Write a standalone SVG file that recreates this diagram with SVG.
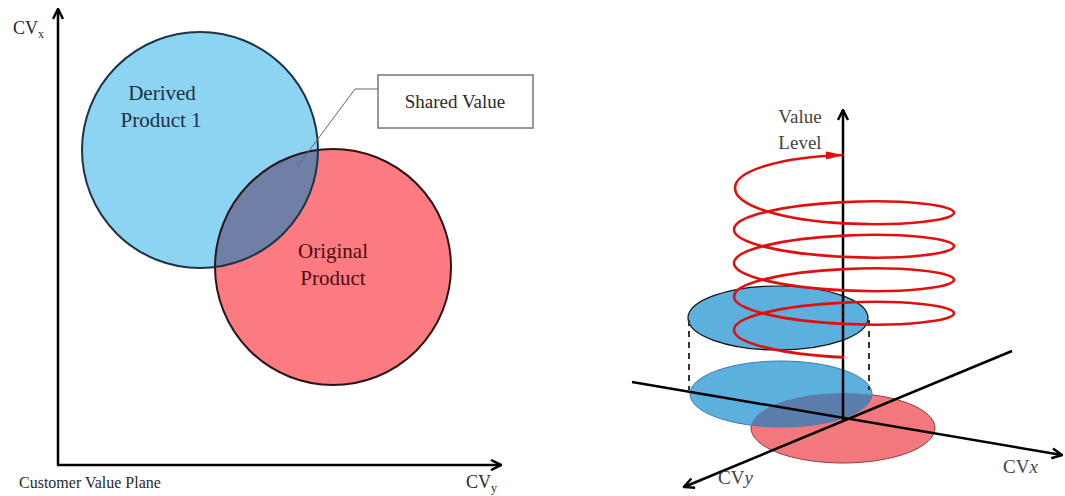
<svg xmlns="http://www.w3.org/2000/svg" width="1065" height="496" viewBox="0 0 1065 496">
  <style>
    text { font-family: "Liberation Serif", "Times New Roman", serif; }
    .axis { stroke: #000; stroke-width: 2.5; fill: none; }
    .lbl { fill: #2a2a2a; font-size: 18px; }
    .lbl3d { fill: #444; font-size: 19px; }
  </style>
  <defs>
    <marker id="arrow" viewBox="0 0 10 10" refX="9" refY="5" markerWidth="5" markerHeight="5" orient="auto">
      <path d="M1,1 L9,5 L1,9" fill="none" stroke="#000" stroke-width="2"/>
    </marker>
    <marker id="redArrow" viewBox="0 0 18 10" refX="17" refY="5" markerWidth="18" markerHeight="10" markerUnits="userSpaceOnUse" orient="auto">
      <path d="M0,1 L18,5 L0,9 Z" fill="#e01010"/>
    </marker>
    <clipPath id="clipBlue2d"><circle cx="200" cy="150" r="118"/></clipPath>
    <clipPath id="clipBlue3d"><ellipse cx="781" cy="394" rx="91" ry="33"/></clipPath>
  </defs>

  <!-- Left: customer value plane -->
  <g id="plane-axes">
    <line class="axis" x1="58" y1="465" x2="58" y2="9" marker-end="url(#arrow)"/>
    <line class="axis" x1="57" y1="465" x2="501" y2="465" marker-end="url(#arrow)"/>
    <text class="lbl" x="13" y="34">CV<tspan font-size="12" dy="4">x</tspan></text>
    <text class="lbl" x="466" y="488">CV<tspan font-size="12" dy="4">y</tspan></text>
    <text x="19" y="488" font-size="16" fill="#2a2a2a">Customer Value Plane</text>
  </g>

  <g id="original-product">
    <circle cx="333" cy="267" r="118" fill="#fb7b80"/>
  </g>
  <g id="derived-product-1">
    <circle cx="200" cy="150" r="118" fill="#8dd4f2"/>
  </g>
  <g id="shared-region">
    <circle cx="333" cy="267" r="118" fill="#6f7fa5" clip-path="url(#clipBlue2d)"/>
    <circle cx="333" cy="267" r="118" fill="none" stroke="#2a1416" stroke-width="2"/>
    <circle cx="200" cy="150" r="118" fill="none" stroke="#1c3446" stroke-width="2"/>
  </g>
  <g id="labels-2d" font-size="21">
    <text x="162" y="100" text-anchor="middle" fill="#1c2f45">Derived</text>
    <text x="161" y="127" text-anchor="middle" fill="#1c2f45">Product 1</text>
    <text x="333" y="258" text-anchor="middle" fill="#4e0c10">Original</text>
    <text x="333" y="285" text-anchor="middle" fill="#4e0c10">Product</text>
  </g>

  <g id="shared-value">
    <rect x="378" y="75" width="155" height="53" fill="#fff" stroke="#777" stroke-width="1.5"/>
    <text x="455" y="108" text-anchor="middle" font-size="19" fill="#2a2a2a">Shared Value</text>
  </g>

  <!-- Right: value level helix over the CVx / CVy plane -->
  <g id="plane-3d">
    <ellipse cx="843" cy="428" rx="92" ry="35" fill="#f3787e" stroke="#8a3c40" stroke-width="1"/>
    <ellipse cx="781" cy="394" rx="91" ry="33" fill="#5cb0de" stroke="#3a7aa8" stroke-width="1"/>
    <ellipse cx="843" cy="428" rx="92" ry="35" fill="#5b7dab" clip-path="url(#clipBlue3d)"/>
  </g>

  <g id="raised-value">
    <ellipse cx="778" cy="318" rx="90" ry="32" fill="#5cb0de" stroke="#111" stroke-width="1.2"/>
  </g>

  <g id="connectors">
    <polyline points="378,89 355,89 297,167" fill="none" stroke="#666" stroke-width="1"/>
    <g stroke="#333" stroke-width="2" stroke-dasharray="6,5">
      <line x1="689" y1="320" x2="689" y2="390"/>
      <line x1="869" y1="320" x2="869" y2="390"/>
    </g>
    <line class="axis" x1="632" y1="382" x2="1062" y2="455" marker-end="url(#arrow)"/>
    <line class="axis" x1="1012" y1="351" x2="684" y2="487" marker-end="url(#arrow)"/>
    <line class="axis" x1="843" y1="421" x2="843" y2="110" marker-end="url(#arrow)"/>
  </g>

  <g id="value-helix">
    <path fill="none" stroke="#e01010" stroke-width="2.6" marker-end="url(#redArrow)"
      d="M844,357.38
         c-60.75,-2.94 -110,-13.94 -110,-27.38 c0,-13.44 49.25,-24.43 110,-27.37 c60.75,-2.94 110,3.08 110,10.63 c0,7.55 -49.25,13.56 -110,10.62
         c-60.75,-2.94 -110,-13.94 -110,-27.38 c0,-13.44 49.25,-24.43 110,-27.37 c60.75,-2.94 110,3.08 110,10.63 c0,7.55 -49.25,13.56 -110,10.62
         c-60.75,-2.94 -110,-13.94 -110,-27.38 c0,-13.44 49.25,-24.43 110,-27.37 c60.75,-2.94 110,3.08 110,10.63 c0,7.55 -49.25,13.56 -110,10.62
         c-60.75,-2.94 -110,-13.94 -110,-27.38 c0,-13.44 49.25,-24.43 110,-27.37 c60.75,-2.94 110,3.08 110,10.63 c0,7.55 -49.25,13.56 -110,10.62
         c-60.75,-2.94 -109,-17.38 -109,-35.38 c0,-18 48,-31 108,-33"/>
  </g>

  <g id="labels-3d">
    <text class="lbl3d" x="800" y="123" text-anchor="middle">Value</text>
    <text class="lbl3d" x="800" y="149" text-anchor="middle">Level</text>
    <text class="lbl3d" x="1003" y="473">CV<tspan font-style="italic">x</tspan></text>
    <text class="lbl3d" x="718" y="484">CV<tspan font-style="italic">y</tspan></text>
  </g>
</svg>
